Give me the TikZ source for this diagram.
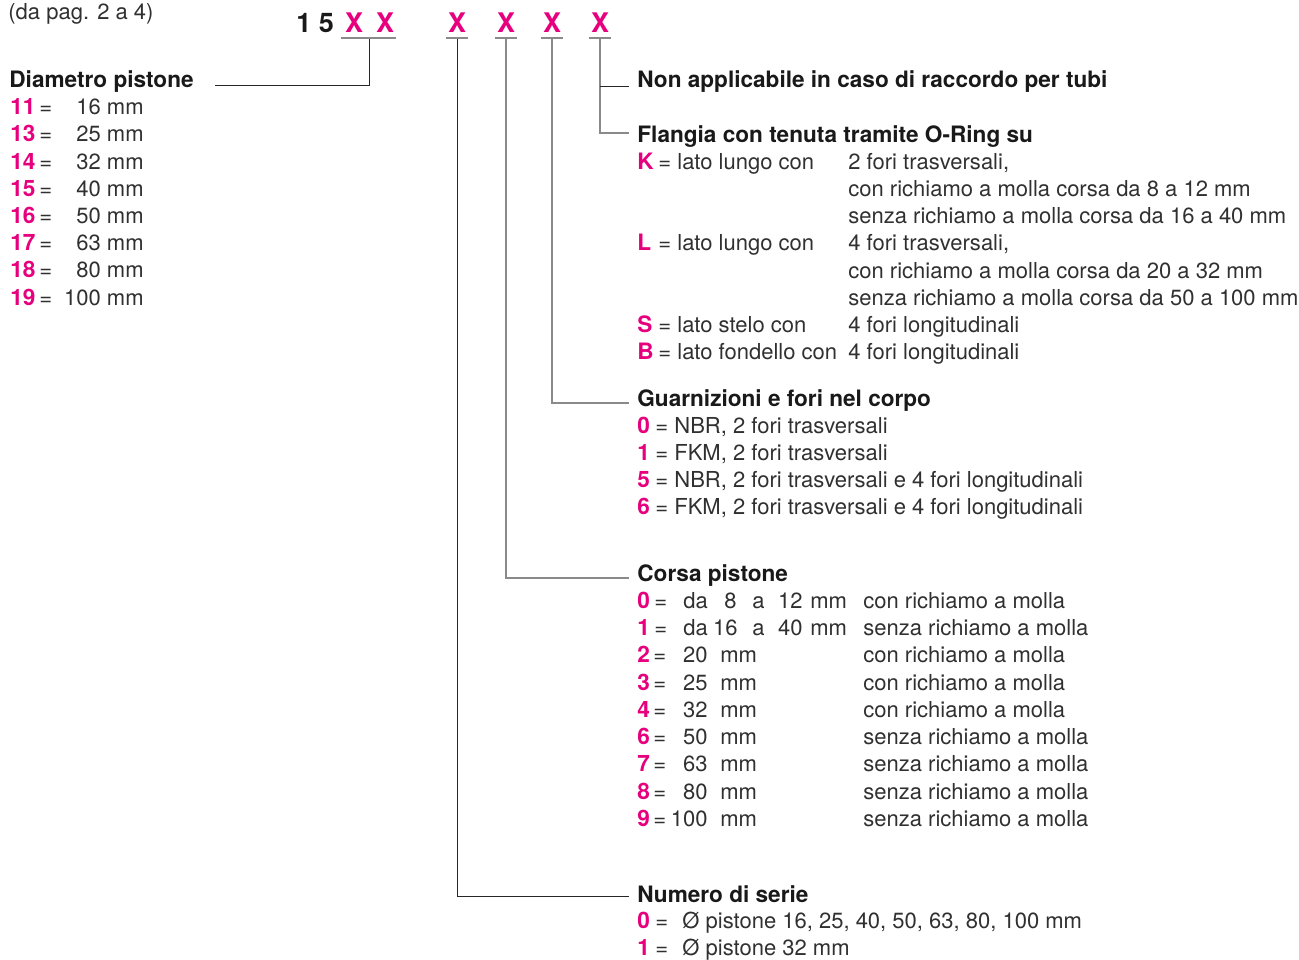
\documentclass[tikz,border=0pt]{standalone}
\usepackage{fontspec}
\setmainfont{TeX Gyre Heros}
\usepackage{xcolor}
\usetikzlibrary{positioning, calc}
\definecolor{codemag}{HTML}{E6007E}
\definecolor{txtgray}{HTML}{303030}
\definecolor{linegray}{HTML}{8A8A8A}

\begin{document}
\begin{tikzpicture}[x=0.5pt, y=-0.5pt,
    every node/.style={inner sep=0pt, anchor=base west, text=txtgray, font=\fontsize{11}{13}\selectfont},
    head/.style={text=black!90, font=\fontsize{11.3}{13}\selectfont\bfseries},
    key/.style={text=codemag, font=\fontsize{11.3}{13}\selectfont\bfseries},
    codeX/.style={anchor=base, text=codemag, font=\fontsize{13.5}{15}\selectfont\bfseries, inner xsep=1pt, inner ysep=2.8pt},
    uline/.style={draw=linegray, line width=1pt},
    darklead/.style={draw=black!85, line width=0.5pt},
    greylead/.style={draw=linegray, line width=0.9pt}]
\useasboundingbox (0,0) rectangle (1299,959);

% code line
\node (ref) at (8,19) {(da pag. 2 a 4)};
\node[text=black!90, font=\fontsize{13.5}{15}\selectfont\bfseries] (code) at (296,32) {1 5};
\node[codeX] (x1) at (354,32) {X};
\node[codeX] (x2) at (385,32) {X};
\node[codeX] (x3) at (457,32) {X};
\node[codeX] (x4) at (506,32) {X};
\node[codeX] (x5) at (552,32) {X};
\node[codeX] (x6) at (600,32) {X};

% ends of the leaders
\coordinate (xdMid) at ($(x1.south)!0.5!(x2.south)$);
\coordinate (eDiam) at (215,85);
\coordinate (eNon) at (629,86.7);
\coordinate (eFla) at (629,133.3);
\coordinate (eGua) at (629,403);
\coordinate (eCor) at (629,578);
\coordinate (eNum) at (629,896);

\draw[darklead] (xdMid) |- (eDiam);
\draw[darklead] (x3.south) |- (eNum);
\draw[greylead] (x4.south) |- (eCor);
\draw[greylead] (x5.south) |- (eGua);
\draw[greylead] (x6.south) |- (eFla);
\draw[darklead] (x6.south |- eNon) -- (eNon);

\draw[uline] ([xshift=-1pt]x1.south west) -- (x2.south east);
\foreach \n in {x3,x4,x5,x6}
  \draw[uline] (\n.south west) -- (\n.south east);

% Diametro pistone
\node[head] (diam) at (9,87.3) {Diametro pistone};
\foreach \k/\v [count=\i] in {11/16,13/25,14/32,15/40,16/50,17/63,18/80,19/100} {
  \node[key] (d\k) at (10,87.3+27.24*\i) {\k};
  \node (dq\k) at (39,87.3+27.24*\i) {=};
  \node[anchor=base east] (dv\k) at (144,87.3+27.24*\i) {\v\ mm};
}

% Non applicabile / Flangia
\node[head] (non) at (637,87.3) {Non applicabile in caso di raccordo per tubi};
\node[head] (fla) at (637,142) {Flangia con tenuta tramite O-Ring su};
\node[key] (fK) at (637,169) {K};
\node (fKa) at (658,169) {= lato lungo con};
\node (fKb) at (848,169) {2 fori trasversali,};
\node (fKc) at (848,196.2) {con richiamo a molla corsa da 8 a 12 mm};
\node (fKd) at (848,223.5) {senza richiamo a molla corsa da 16 a 40 mm};
\node[key] (fL) at (637,250.7) {L};
\node (fLa) at (658,250.7) {= lato lungo con};
\node (fLb) at (848,250.7) {4 fori trasversali,};
\node (fLc) at (848,278) {con richiamo a molla corsa da 20 a 32 mm};
\node (fLd) at (848,305.2) {senza richiamo a molla corsa da 50 a 100 mm};
\node[key] (fS) at (637,332.4) {S};
\node (fSa) at (658,332.4) {= lato stelo con};
\node (fSb) at (848,332.4) {4 fori longitudinali};
\node[key] (fB) at (637,359.6) {B};
\node (fBa) at (658,359.6) {= lato fondello con};
\node (fBb) at (848,359.6) {4 fori longitudinali};

% Guarnizioni
\node[head] (gua) at (637,406) {Guarnizioni e fori nel corpo};
\foreach \k/\t [count=\i from 0] in {0/{NBR, 2 fori trasversali},1/{FKM, 2 fori trasversali},5/{NBR, 2 fori trasversali e 4 fori longitudinali},6/{FKM, 2 fori trasversali e 4 fori longitudinali}} {
  \node[key] (g\k) at (637,433+27.24*\i) {\k};
  \node (gt\k) at (655,433+27.24*\i) {= \t};
}

% Corsa pistone
\node[head] (cor) at (637,581.5) {Corsa pistone};
\node[key] (c0) at (637,608.5) {0};
\node (cq0) at (654,608.5) {=};
\node (cda0) at (683,608.5) {da};
\node[anchor=base east] (cf0) at (737,608.5) {8};
\node (ca0) at (752,608.5) {a};
\node[anchor=base east] (ct0) at (803,608.5) {12};
\node (cm0) at (810,608.5) {mm};
\node (cr0) at (863,608.5) {con richiamo a molla};
\node[key] (c1) at (637,635.7) {1};
\node (cq1) at (654,635.7) {=};
\node (cda1) at (683,635.7) {da};
\node[anchor=base east] (cf1) at (738,635.7) {16};
\node (ca1) at (752,635.7) {a};
\node[anchor=base east] (ct1) at (803,635.7) {40};
\node (cm1) at (810,635.7) {mm};
\node (cr1) at (863,635.7) {senza richiamo a molla};
\foreach \k/\v/\c [count=\i from 2] in {2/20/con,3/25/con,4/32/con,6/50/senza,7/63/senza,8/80/senza,9/100/senza} {
  \node[key] (c\k) at (637,608.5+27.24*\i) {\k};
  \node (cq\k) at (653,608.5+27.24*\i) {=};
  \node[anchor=base east] (cv\k) at (708,608.5+27.24*\i) {\v};
  \node (cm\k) at (720,608.5+27.24*\i) {mm};
  \node (cr\k) at (863,608.5+27.24*\i) {\c\ richiamo a molla};
}

% Numero di serie
\node[head] (num) at (637,902) {Numero di serie};
\node[key] (n0) at (637,928.5) {0};
\node (nt0) at (655,928.5) {=};
\node (nd0) at (682,928.5) {Ø pistone 16, 25, 40, 50, 63, 80, 100 mm};
\node[key] (n1) at (637,955.7) {1};
\node (nt1) at (655,955.7) {=};
\node (nd1) at (682,955.7) {Ø pistone 32 mm};
\end{tikzpicture}
\end{document}
